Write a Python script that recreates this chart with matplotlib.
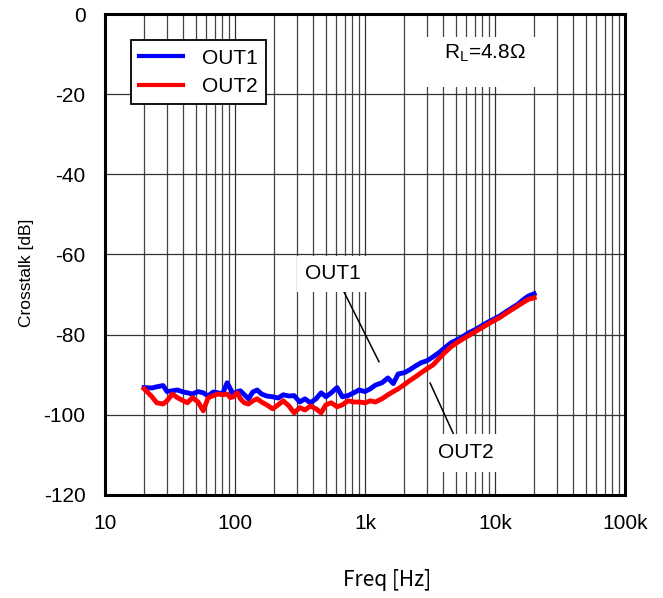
import matplotlib
matplotlib.use("Agg")
import matplotlib.pyplot as plt
from matplotlib.patches import Rectangle
from matplotlib.ticker import FixedLocator, LogLocator, NullFormatter

plt.rcParams['font.family'] = ['Liberation Sans', 'DejaVu Sans']

freq = [20, 23, 25, 28, 30, 33, 36, 40, 43, 47, 52, 57, 62, 68, 74, 80, 87, 92, 97,
        104, 110, 118, 127, 137, 148, 160, 175, 195, 215, 235, 260, 285, 315, 345,
        380, 420, 460, 500, 550, 610, 670, 740, 820, 900, 1000, 1100, 1200, 1350,
        1500, 1650, 1800, 2000, 2200, 2450, 2700, 3000, 3350, 3700, 4100, 4600,
        5100, 5700, 6300, 7000, 7800, 8700, 9700, 10800, 12000, 13400, 15000,
        16600, 18000, 20000]

out1 = [-93.2, -93.3, -93.0, -92.7, -94.2, -94.0, -93.8, -94.3, -94.5, -94.8,
        -94.2, -94.5, -95.3, -94.3, -94.5, -94.8, -92.0, -93.5, -94.8, -94.2,
        -94.0, -95.0, -96.0, -94.3, -93.8, -94.8, -95.3, -95.5, -95.8, -95.0,
        -95.3, -95.2, -96.8, -96.0, -97.0, -96.0, -94.5, -95.5, -94.5, -93.2,
        -95.5, -95.2, -94.5, -93.8, -94.2, -93.5, -92.6, -92.0, -90.8, -92.2,
        -89.8, -89.5, -88.8, -87.8, -87.0, -86.5, -85.5, -84.5, -83.3, -82.0,
        -81.3, -80.4, -79.5, -78.8, -77.9, -77.0, -76.2, -75.4, -74.4, -73.4,
        -72.4, -71.2, -70.4, -69.8]

out2 = [-93.5, -95.5, -97.0, -97.3, -96.5, -94.8, -95.7, -96.5, -97.0, -95.7,
        -96.8, -99.0, -95.8, -95.2, -94.8, -95.0, -94.8, -95.7, -95.5, -94.5,
        -96.0, -97.0, -97.3, -96.5, -96.0, -96.8, -97.5, -98.5, -97.5, -96.5,
        -97.8, -99.5, -98.2, -98.8, -97.8, -98.5, -99.5, -97.5, -97.0, -98.0,
        -97.5, -96.5, -96.8, -96.8, -97.0, -96.5, -96.8, -96.0, -95.0, -94.2,
        -93.5, -92.5, -91.5, -90.5, -89.5, -88.5, -87.5, -86.0, -84.5, -83.0,
        -82.0, -81.0, -80.2, -79.3, -78.4, -77.5, -76.6, -75.8, -74.8, -73.8,
        -72.8, -71.9, -71.2, -70.8]

x_ticks = [10, 100, 1000, 10000, 100000]
x_labels = ['10', '100', '1k', '10k', '100k']
y_ticks = [0, -20, -40, -60, -80, -100, -120]

fig = plt.figure(figsize=(6.63, 5.98), dpi=100)
ax = fig.add_axes([105 / 663, 1 - 495 / 598, 520 / 663, 481 / 598])

ax.plot(freq, out1, color='#0000ff', lw=3.5, label='OUT1', zorder=3)
ax.plot(freq, out2, color='#ff0000', lw=3.5, label='OUT2', zorder=3)

ax.set_xscale('log')
ax.set_xlim(10, 100000)
ax.set_ylim(-120, 0)
ax.xaxis.set_major_locator(FixedLocator(x_ticks))
ax.set_xticklabels(x_labels)
ax.xaxis.set_minor_locator(LogLocator(base=10, subs=range(2, 10), numticks=20))
ax.xaxis.set_minor_formatter(NullFormatter())
ax.set_yticks(y_ticks)
ax.set_yticklabels([str(v) for v in y_ticks])
ax.tick_params(which='both', length=0, labelsize=15)
ax.tick_params(axis='x', pad=14)
ax.tick_params(axis='y', pad=14)

ax.grid(which='major', color='#333333', lw=0.9, zorder=0)
ax.grid(which='minor', axis='x', color='#444444', lw=0.9, zorder=0)
ax.set_axisbelow(True)
for s in ax.spines.values():
    s.set_linewidth(2.2)
    s.set_zorder(5)

leg = ax.legend(loc='upper left', bbox_to_anchor=(0.05, 0.945), fontsize=15,
                frameon=True, fancybox=False, edgecolor='black', framealpha=1,
                handlelength=2.1, handletextpad=0.9, borderpad=0.4,
                labelspacing=0.45, borderaxespad=0)
leg.get_frame().set_linewidth(1.3)
for h in leg.legend_handles:
    h.set_linewidth(3)

# white patch behind the load label
ax.add_patch(Rectangle((0.587, 0.848), 0.259, 0.104, transform=ax.transAxes,
                       facecolor='white', edgecolor='none', zorder=2))
ax.text(0.73, 0.919, r'R$_\mathregular{L}$=4.8Ω', transform=ax.transAxes,
        fontsize=15, ha='center', va='center', zorder=4)

ax.annotate('OUT1', xy=(1283, -86.8), xytext=(567, -64.8), fontsize=15,
            ha='center', va='center', zorder=4,
            bbox=dict(facecolor='white', edgecolor='none', pad=6),
            arrowprops=dict(arrowstyle='-', color='black', lw=1.1,
                            shrinkA=0, shrinkB=0, relpos=(0.62, 0)))
ax.annotate('OUT2', xy=(3162, -92.0), xytext=(6000, -109.5), fontsize=15,
            ha='center', va='center', zorder=4,
            bbox=dict(facecolor='white', edgecolor='none', pad=7),
            arrowprops=dict(arrowstyle='-', color='black', lw=1.1,
                            shrinkA=0, shrinkB=0, relpos=(0.35, 1)))

fig.text(387 / 663, 1 - 580 / 598, 'Freq [Hz]', fontsize=15, ha='center',
         va='center', family=['Noto Sans CJK JP', 'DejaVu Sans'])
fig.text(27 / 663, 1 - 273 / 598, 'Crosstalk [dB]', fontsize=12.5, ha='center',
         va='center', rotation=90)

fig.savefig('out.png', dpi=100, facecolor='white')
